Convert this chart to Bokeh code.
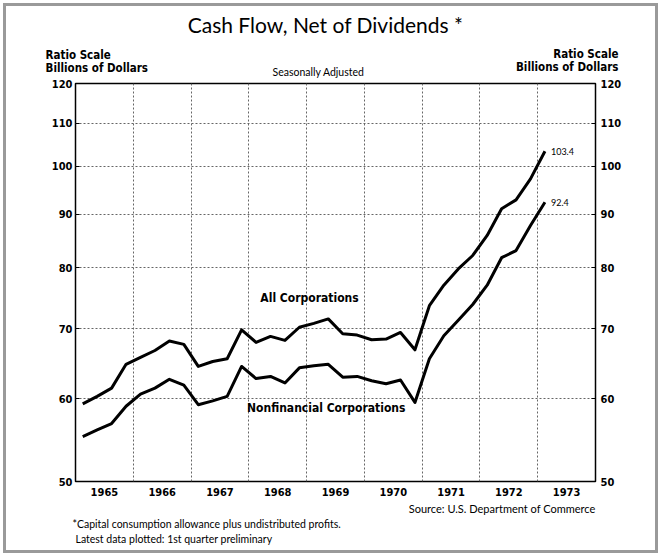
from bokeh.plotting import figure
from bokeh.models import LogAxis, FixedTicker, PrintfTickFormatter, Label, Range1d
from bokeh.embed import file_html
from bokeh.resources import INLINE

# ---- data (billions of dollars, seasonally adjusted, quarterly 1965Q1..1973Q1)
years = [1965, 1966, 1967, 1968, 1969, 1970, 1971, 1972, 1973]
quarter_year = [y for y in range(1965, 1973) for _ in range(4)] + [1973]
quarter_num = [q for _ in range(1965, 1973) for q in (1, 2, 3, 4)] + [1]
all_corp = [59.3, 60.3, 61.4, 64.7, 65.7, 66.7, 68.1, 67.6,
            64.4, 65.1, 65.5, 69.8, 67.9, 68.8, 68.2, 70.2,
            70.8, 71.5, 69.2, 69.0, 68.3, 68.4, 69.4, 66.8,
            73.6, 77.0, 79.8, 82.2, 85.9, 91.1, 92.9, 97.3,
            103.4]
nonfin = [55.2, 56.0, 56.8, 59.0, 60.6, 61.4, 62.6, 61.8,
          59.2, 59.7, 60.3, 64.4, 62.7, 63.0, 62.1, 64.2,
          64.5, 64.7, 62.9, 63.0, 62.4, 62.0, 62.5, 59.5,
          65.5, 68.9, 71.3, 73.8, 77.0, 81.8, 83.1, 87.8,
          92.4]
y_ticks = [50, 60, 70, 80, 90, 100, 110, 120]
grid_y = [60, 70, 80, 90, 100, 110]

x = [y + (q - 0.5) / 4 for y, q in zip(quarter_year, quarter_num)]

LABEL_FONT = "DejaVu Sans Condensed, DejaVu Sans"
TEXT_FONT = "Lato"

p = figure(width=661, height=556, y_axis_type="log",
           x_range=Range1d(1965, 1974), y_range=Range1d(50, 120),
           output_backend="svg", toolbar_location=None,
           min_border_left=75, min_border_right=66,
           min_border_top=83, min_border_bottom=75)
p.styles = {"background": "white",
            "box-shadow": "inset 0 0 0 3px #ffffff, inset 0 0 0 6px #9a9a9a"}
p.background_fill_color = "white"
p.border_fill_color = None
p.outline_line_color = "black"
p.outline_line_width = 1.5

# grids
p.xgrid.ticker = FixedTicker(ticks=years[1:])
p.ygrid.ticker = FixedTicker(ticks=grid_y)
for g in (p.xgrid, p.ygrid):
    g.grid_line_color = "#666666"
    g.grid_line_dash = "2 2"
    g.grid_line_width = 1

# bottom axis: year labels centered in each year
xa = p.xaxis[0]
xa.ticker = FixedTicker(ticks=[y + 0.5 for y in years])
xa.major_label_overrides = {y + 0.5: str(y) for y in years}
xa.major_tick_line_color = None
xa.major_tick_out = 0
xa.major_tick_in = 0
xa.minor_tick_line_color = None
xa.minor_tick_out = 0
xa.axis_line_color = None
xa.major_label_standoff = 6
xa.major_label_text_font = LABEL_FONT
xa.major_label_text_font_style = "bold"
xa.major_label_text_font_size = "11px"
xa.major_label_text_color = "black"

def style_y(ax, standoff):
    ax.ticker = FixedTicker(ticks=y_ticks)
    ax.formatter = PrintfTickFormatter(format="%d")
    ax.major_tick_in = 4
    ax.major_tick_out = 0
    ax.major_tick_line_color = "black"
    ax.minor_tick_line_color = None
    ax.minor_tick_out = 0
    ax.axis_line_color = None
    ax.major_label_standoff = standoff
    ax.major_label_text_font = LABEL_FONT
    ax.major_label_text_font_style = "bold"
    ax.major_label_text_font_size = "11px"
    ax.major_label_text_color = "black"

style_y(p.yaxis[0], 3)
ra = LogAxis()
style_y(ra, 5)
p.add_layout(ra, "right")

# lines
p.line(x, all_corp, line_color="black", line_width=3, line_join="round")
p.line(x, nonfin, line_color="black", line_width=3, line_join="round")

# series labels (data coordinates)
def dlabel(xx, yy, text, size, font, style="normal", align="center", x_offset=0):
    p.add_layout(Label(x=xx, y=yy, text=text, text_font=font,
                       text_font_style=style, text_font_size=size,
                       text_align=align, text_baseline="middle",
                       text_color="black", x_offset=x_offset))

dlabel(1969.05, 74.9, "All Corporations", "12px", LABEL_FONT, "bold")
dlabel(1969.34, 58.8, "Nonfinancial Corporations", "12px", LABEL_FONT, "bold")
dlabel(x[-1], all_corp[-1], f"{all_corp[-1]:.1f}", "9px", TEXT_FONT, align="left", x_offset=6)
dlabel(x[-1], nonfin[-1], f"{nonfin[-1]:.1f}", "9px", TEXT_FONT, align="left", x_offset=6)

# titles and notes in side panels (each Label gets its own stacked panel;
# x from frame left, y upward from that panel's bottom edge)
def slabel(place, text, xx, yy, size, font=TEXT_FONT, align="left", style="normal"):
    p.add_layout(Label(x=xx, y=yy, x_units="screen", y_units="screen", text=text,
                       text_font=font, text_font_size=size, text_align=align,
                       text_baseline="middle", text_font_style=style,
                       text_color="black"), place)

slabel("above", "Cash Flow, Net of Dividends *", 250, 59, "21px", align="center")
slabel("above", "Ratio Scale", -30, 3.8, "11.5px", font=LABEL_FONT, style="bold")
slabel("above", "Billions of Dollars", -30, -23.6, "11.5px", font=LABEL_FONT, style="bold")
slabel("above", "Ratio Scale", 543, -23, "11.5px", font=LABEL_FONT, style="bold", align="right")
slabel("above", "Billions of Dollars", 543, -50.4, "11.5px", font=LABEL_FONT, style="bold", align="right")

slabel("below", "Seasonally Adjusted", 243, 438.6, "10.5px", align="center")
slabel("below", "Source: U.S. Department of Commerce", 520, 14.8, "11px", align="right")
slabel("below", "*Capital consumption allowance plus undistributed profits.", -3, 11.4, "10.5px")
slabel("below", "Latest data plotted: 1st quarter preliminary", 0, 9, "10.5px")

open("out.html", "w").write(file_html(p, INLINE))
